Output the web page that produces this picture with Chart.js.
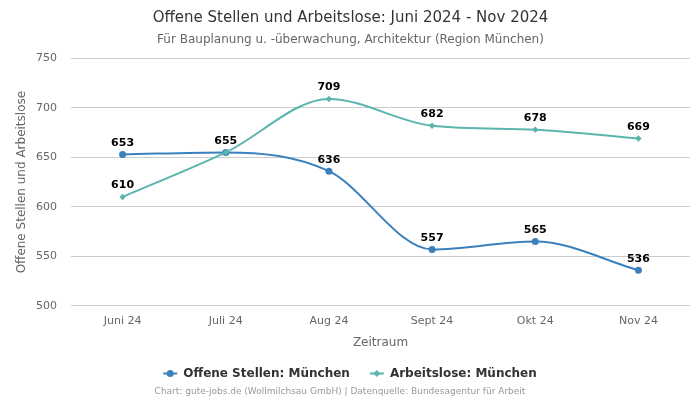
<!DOCTYPE html>
<html><head><meta charset="utf-8">
<script src="https://cdn.jsdelivr.net/npm/chart.js@4/dist/chart.umd.min.js"></script>
<style>html,body{margin:0;padding:0;background:#fff}#wrap{width:700px;height:400px}</style>
</head><body><div id="wrap"><canvas id="c" width="700" height="400"></canvas></div>
<script>
const categories = ["Juni 24","Juli 24","Aug 24","Sept 24","Okt 24","Nov 24"];
const offeneStellen = [653,655,636,557,565,536];
const arbeitslose = [610,655,709,682,678,669];
const yTicks = [500,550,600,650,700,750];

Chart.defaults.font.family = "'DejaVu Sans', sans-serif";

const labelPlugin = {
  id:'labels',
  afterDatasetsDraw(chart){
    const ctx = chart.ctx;
    ctx.save();
    ctx.font = "bold 11px 'DejaVu Sans', sans-serif";
    ctx.fillStyle = '#000';
    ctx.textAlign = 'center';
    ctx.textBaseline = 'bottom';
    const drawn = {};
    chart.data.datasets.forEach((ds,i)=>{
      const meta = chart.getDatasetMeta(i);
      meta.data.forEach((pt,j)=>{
        const key = j+':'+ds.data[j];
        if (drawn[key]) return;
        drawn[key] = true;
        ctx.fillText(String(ds.data[j]), pt.x, pt.y-6);
      });
    });
    ctx.restore();
  },
  afterDraw(chart){
    const ctx = chart.ctx;
    ctx.save();
    ctx.font = "bold 12px 'DejaVu Sans', sans-serif";
    const items = chart.data.datasets.map(ds=>({ds, w: ctx.measureText(ds.label).width}));
    const marker = 14, gapText = 6, gapItems = 20;
    let total = 0;
    items.forEach((it,i)=>{ total += marker + gapText + it.w + (i<items.length-1?gapItems:0); });
    let x = 350 - total/2;
    const y = 373.5;
    items.forEach(it=>{
      ctx.strokeStyle = it.ds.borderColor; ctx.fillStyle = it.ds.borderColor; ctx.lineWidth = 2;
      ctx.beginPath(); ctx.moveTo(x, y); ctx.lineTo(x+marker, y); ctx.stroke();
      const cx = x + marker/2;
      if (it.ds.pointStyle === 'circle') {
        ctx.beginPath(); ctx.arc(cx, y, 3.5, 0, Math.PI*2); ctx.fill();
      } else {
        ctx.beginPath(); ctx.moveTo(cx, y-3.5); ctx.lineTo(cx+3.5, y); ctx.lineTo(cx, y+3.5); ctx.lineTo(cx-3.5, y); ctx.closePath(); ctx.fill();
      }
      ctx.fillStyle = '#333'; ctx.textAlign = 'left'; ctx.textBaseline = 'middle';
      ctx.fillText(it.ds.label, x + marker + gapText, y);
      x += marker + gapText + it.w + gapItems;
    });
    ctx.font = "9px 'DejaVu Sans', sans-serif";
    ctx.fillStyle = '#999';
    ctx.textAlign = 'center';
    ctx.textBaseline = 'middle';
    ctx.fillText('Chart: gute-jobs.de (Wollmilchsau GmbH) | Datenquelle: Bundesagentur für Arbeit', 340, 392);
    ctx.restore();
  }
};

new Chart(document.getElementById('c'), {
  type:'line',
  data:{
    labels: categories,
    datasets:[
      {label:'Offene Stellen: München', data: offeneStellen, borderColor:'#3a80bd', backgroundColor:'#3a80bd',
       pointStyle:'circle', pointRadius:3.5, pointHoverRadius:3.5, pointBorderWidth:0, borderWidth:2, cubicInterpolationMode:'monotone', order:2},
      {label:'Arbeitslose: München', data: arbeitslose, borderColor:'#5bb5ad', backgroundColor:'#5bb5ad',
       pointStyle:'rectRot', pointRadius:3.2, pointHoverRadius:3.2, pointBorderWidth:0, borderWidth:2, cubicInterpolationMode:'monotone', order:1}
    ]
  },
  options:{
    responsive:false, animation:false,
    layout:{padding:{left:11,right:10,bottom:49}},
    plugins:{
      title:{display:true, text:'Offene Stellen und Arbeitslose: Juni 2024 - Nov 2024', color:'#333', font:{size:15, weight:'normal'}, padding:{top:9,bottom:6}},
      subtitle:{display:true, text:'Für Bauplanung u. -überwachung, Architektur (Region München)', color:'#666', font:{size:12}, padding:{bottom:11}},
      legend:{display:false},
      tooltip:{enabled:false}
    },
    scales:{
      x:{grid:{display:false, drawTicks:false}, border:{display:false}, ticks:{color:'#666', font:{size:11}, padding:9},
         title:{display:true, text:'Zeitraum', color:'#666', font:{size:12, lineHeight:1}, padding:{top:0,bottom:2}}, offset:true},
      y:{min:500, max:750, afterBuildTicks(ax){ax.ticks = yTicks.map(v=>({value:v}));},
         afterFit(ax){ ax.width = 60; },
         grid:{color:'#cccccc', drawTicks:false}, border:{display:false}, ticks:{color:'#666', font:{size:11}, padding:14},
         title:{display:true, text:'Offene Stellen und Arbeitslose', color:'#666', font:{size:12}, padding:{top:4,bottom:4}}}
    }
  },
  plugins:[labelPlugin]
});
</script></body></html>
